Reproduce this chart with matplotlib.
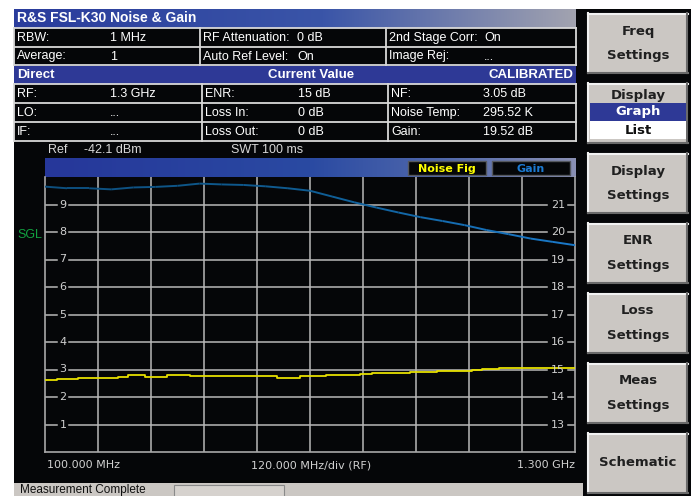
import numpy as np
import matplotlib
matplotlib.use("Agg")
import matplotlib.pyplot as plt
from matplotlib.patches import Rectangle
from matplotlib.collections import LineCollection
from matplotlib.colors import LinearSegmentedColormap, to_rgb

# ---------------- data ----------------
title = "R&S FSL-K30 Noise & Gain"
setup_rows = [
    ["RBW:", "1 MHz", "RF Attenuation:", "0 dB", "2nd Stage Corr:", "On"],
    ["Average:", "1", "Auto Ref Level:", "On", "Image Rej:", "..."],
]
result_header = ["Direct", "Current Value", "CALIBRATED"]
result_rows = [
    ["RF:", "1.3 GHz", "ENR:", "15 dB", "NF:", "3.05 dB"],
    ["LO:", "...", "Loss In:", "0 dB", "Noise Temp:", "295.52 K"],
    ["IF:", "...", "Loss Out:", "0 dB", "Gain:", "19.52 dB"],
]
ref_text = ["Ref", "-42.1 dBm", "SWT 100 ms"]
softkeys = [["Freq", "Settings"], ["Display", "Graph", "List"], ["Display", "Settings"],
            ["ENR", "Settings"], ["Loss", "Settings"], ["Meas", "Settings"], ["Schematic"]]
legend_labels = ["Noise Fig", "Gain"]
x_labels = ["100.000 MHz", "120.000 MHz/div (RF)", "1.300 GHz"]
status_text = "Measurement Complete"

f_start, f_stop, f_div = 100, 1300, 120
nf_range = (0, 10)
gain_range = (12, 22)
nf_ticks = [1, 2, 3, 4, 5, 6, 7, 8, 9]
gain_ticks = [13, 14, 15, 16, 17, 18, 19, 20, 21]

gain_freq = [100, 150, 200, 250, 300, 350, 400, 450, 500, 550, 600, 650, 700,
             750, 800, 850, 900, 950, 1000, 1050, 1100, 1150, 1200, 1250, 1300]
gain_db = [21.65, 21.59, 21.59, 21.55, 21.62, 21.64, 21.68, 21.76, 21.73, 21.71, 21.66, 21.59, 21.50,
           21.29, 21.08, 20.89, 20.71, 20.54, 20.40, 20.25, 20.07, 19.92, 19.76, 19.64, 19.52]

nf_freq = [100, 127, 175, 265, 288, 326, 376, 428, 625, 677, 736, 813, 840, 926, 987,
           1067, 1089, 1128, 1300]
nf_db = [2.63, 2.67, 2.70, 2.74, 2.79, 2.74, 2.79, 2.75, 2.70, 2.75, 2.79, 2.82, 2.86, 2.91, 2.95,
         2.97, 3.01, 3.04, 3.05]

# ---------------- figure ----------------
W, H = 691, 496
fig = plt.figure(figsize=(W / 100, H / 100), dpi=100, facecolor="white")
bg = fig.add_axes([0, 0, 1, 1])
bg.set_xlim(0, W)
bg.set_ylim(H, 0)
bg.axis("off")

BLACK = "#050608"
BLUE = "#2e3996"
BTN = "#cbc7c3"
SANS = ["Liberation Sans", "DejaVu Sans"]


def rect(x0, y0, x1, y1, fc, ec="none", lw=1.0, z=1):
    bg.add_patch(Rectangle((x0, y0), x1 - x0, y1 - y0, facecolor=fc, edgecolor=ec, lw=lw, zorder=z))


def hgrad(x0, y0, x1, y1, stops, z=2):
    n = 256
    pos = np.linspace(0, 1, n)
    sp = np.array([s[0] for s in stops])
    cols = np.array([to_rgb(s[1]) for s in stops])
    img = np.stack([np.interp(pos, sp, cols[:, k]) for k in range(3)], axis=-1)[None, :, :]
    bg.imshow(img, extent=(x0, x1, y1, y0), aspect="auto", zorder=z, interpolation="bilinear")


# main dark panel
rect(14, 9, W, H, BLACK)
# title bar
hgrad(14, 9, 576, 28, [(0, "#2a3c9c"), (0.55, "#3a55a8"), (1, "#a2a3b0")])
bg.text(17, 18.5, title, color="white", fontsize=10, fontweight="bold", family=SANS,
        ha="left", va="center", zorder=5)

LINE = "#d8d8d8"
# setup table
row_y = [28, 47, 65]
for i, row in enumerate(setup_rows):
    y0, y1 = row_y[i], row_y[i + 1]
    yc = (y0 + y1) / 2 + 0.5
    for xl, txt in zip([17, 110, 203, 297, 389, 484], row):
        bg.text(xl, yc, txt, color="white", fontsize=9, family=SANS, ha="left", va="center", zorder=5)
for yy in row_y:
    bg.plot([14, 576], [yy, yy], color=LINE, lw=1.3, zorder=4)
for xx in [14, 200, 386, 576]:
    bg.plot([xx, xx], [28, 65], color=LINE, lw=1.3, zorder=4)

# result header bar
rect(14, 66, 576, 84, BLUE, z=3)
bg.text(17, 75.5, result_header[0], color="white", fontsize=9.5, fontweight="bold", family=SANS,
        ha="left", va="center", zorder=5)
bg.text(311, 75.5, result_header[1], color="white", fontsize=9.5, fontweight="bold", family=SANS,
        ha="center", va="center", zorder=5)
bg.text(573, 75.5, result_header[2], color="white", fontsize=9.5, fontweight="bold", family=SANS,
        ha="right", va="center", zorder=5)

row_y2 = [84, 103, 122, 141]
for i, row in enumerate(result_rows):
    y0, y1 = row_y2[i], row_y2[i + 1]
    yc = (y0 + y1) / 2 + 0.5
    for xl, txt in zip([17, 110, 205, 298, 391, 483], row):
        bg.text(xl, yc, txt, color="white", fontsize=9, family=SANS, ha="left", va="center", zorder=5)
for yy in row_y2:
    bg.plot([14, 576], [yy, yy], color=LINE, lw=1.3, zorder=4)
for xx in [14, 202, 388, 576]:
    bg.plot([xx, xx], [84, 141], color=LINE, lw=1.3, zorder=4)

# Ref line
bg.text(48, 150, ref_text[0], color="#d8d8d8", fontsize=9, family=SANS, ha="left", va="center", zorder=5)
bg.text(84, 150, ref_text[1], color="#d8d8d8", fontsize=9, family=SANS, ha="left", va="center", zorder=5)
bg.text(231, 150, ref_text[2], color="#d8d8d8", fontsize=9, family=SANS, ha="left", va="center", zorder=5)

# graph gradient bar
hgrad(45, 158, 576, 177, [(0, "#26379a"), (0.5, "#2a4aa2"), (0.75, "#5068ac"), (1, "#8a90b4")])
for (x0, x1), lab, col in zip([(408, 486), (492, 570)], legend_labels, ["#ffff00", "#1c7ad2"]):
    rect(x0, 161, x1, 175, BLACK, ec="#55585f", lw=1.0, z=4)
    bg.text((x0 + x1) / 2, 168.5, lab, color=col, fontsize=8, fontweight="bold", family="DejaVu Sans",
            ha="center", va="center", zorder=5)

# SGL
bg.text(17, 235, "SGL", color="#12a040", fontsize=9, family=SANS, ha="left", va="center", zorder=5)

# x labels
bg.text(47, 465, x_labels[0], color="#d0d0d0", fontsize=8, family="DejaVu Sans", ha="left", va="center", zorder=5)
bg.text(311, 465, x_labels[1], color="#d0d0d0", fontsize=8, family="DejaVu Sans", ha="center", va="center", zorder=5)
bg.text(575, 465, x_labels[2], color="#d0d0d0", fontsize=8, family="DejaVu Sans", ha="right", va="center", zorder=5)

# status bar
rect(14, 483, 583, H, BTN, z=3)
rect(174, 485, 284, H + 2, "#d6d2ce", ec="#8a8a8a", lw=0.8, z=4)
bg.text(20, 489.5, status_text, color="#101010", fontsize=8.5, family=SANS, ha="left", va="center",
        zorder=5)

# softkeys
btn_tops = [13, 83, 153, 223, 293, 363, 433]
for top, lines in zip(btn_tops, softkeys):
    x0, x1, y0, y1 = 588, 688, top, top + 60
    rect(x0, y0, x1, y1, BTN, z=3)
    bg.plot([x0, x1], [y0 + 0.5, y0 + 0.5], color="#f2f2f2", lw=1.5, zorder=4)
    bg.plot([x0 + 0.5, x0 + 0.5], [y0, y1], color="#f2f2f2", lw=1.5, zorder=4)
    bg.plot([x0, x1], [y1 - 0.5, y1 - 0.5], color="#6a6a6a", lw=1.5, zorder=4)
    bg.plot([x1 - 0.5, x1 - 0.5], [y0, y1], color="#6a6a6a", lw=1.5, zorder=4)
    xc = (x0 + x1) / 2
    if len(lines) == 3:
        rect(x0 + 2, y0 + 20, x1 - 2, y0 + 38, BLUE, z=4)
        rect(x0 + 2, y0 + 38, x1 - 2, y0 + 56, "white", z=4)
        for yy, txt, col in zip([y0 + 12, y0 + 29, y0 + 47], lines, ["#202020", "white", "#101010"]):
            bg.text(xc, yy, txt, color=col, fontsize=9.5, fontweight="bold", family="DejaVu Sans",
                    ha="center", va="center", zorder=6)
    elif len(lines) == 2:
        for yy, txt in zip([y0 + 18, y0 + 42], lines):
            bg.text(xc, yy, txt, color="#202020", fontsize=9.5, fontweight="bold", family="DejaVu Sans",
                    ha="center", va="center", zorder=6)
    else:
        bg.text(xc, y0 + 30, lines[0], color="#202020", fontsize=9.5, fontweight="bold",
                family="DejaVu Sans", ha="center", va="center", zorder=6)

# ---------------- plot area ----------------
px0, px1, py0, py1 = 45, 575, 177, 452
ax = fig.add_axes([px0 / W, 1 - py1 / H, (px1 - px0) / W, (py1 - py0) / H])
ax.set_facecolor(BLACK)
ax.set_xlim(f_start, f_stop)
ax.set_ylim(*nf_range)
ax.set_xticks([])
ax.set_yticks([])
for s in ["left", "bottom", "right"]:
    ax.spines[s].set_color("#a8a8a8")
    ax.spines[s].set_linewidth(1.2)
ax.spines["top"].set_visible(False)

GRID = "#b8b8b8"
for f in np.arange(f_start + f_div, f_stop, f_div):
    ax.axvline(f, color=GRID, lw=1.1, zorder=1)

pw = px1 - px0
ytr = ax.get_yaxis_transform()
segs = [(0, 12 / pw), (24 / pw, 502 / pw), (523 / pw, 1)]
for v in nf_ticks:
    for a, b in segs:
        ax.plot([a, b], [v, v], color=GRID, lw=1.1, transform=ytr, zorder=1)
    ax.text(18 / pw, v, str(v), color="#d0d0d0", fontsize=8, family="DejaVu Sans",
            ha="center", va="center", transform=ytr, zorder=2)

ax.plot(nf_freq, nf_db, color="#e6e000", lw=1.3, drawstyle="steps-post", zorder=4)

ax2 = ax.twinx()
ax2.set_ylim(*gain_range)
ax2.set_xlim(f_start, f_stop)
ax2.set_yticks([])
ax2.set_xticks([])
for s in ax2.spines.values():
    s.set_visible(False)
ytr2 = ax2.get_yaxis_transform()
for v in gain_ticks:
    ax2.text(513 / pw, v, str(v), color="#d0d0d0", fontsize=8, family="DejaVu Sans",
             ha="center", va="center", transform=ytr2, zorder=2)

pts = np.column_stack([gain_freq, gain_db])
seg = np.stack([pts[:-1], pts[1:]], axis=1)
cmap = LinearSegmentedColormap.from_list("g", ["#0d4f7e", "#0f5c92", "#1a78c8"])
lc = LineCollection(seg, cmap=cmap, lw=1.4, zorder=4)
lc.set_array(np.linspace(0, 1, len(seg)))
ax2.add_collection(lc)

fig.savefig("out.png", dpi=100, facecolor="white")
